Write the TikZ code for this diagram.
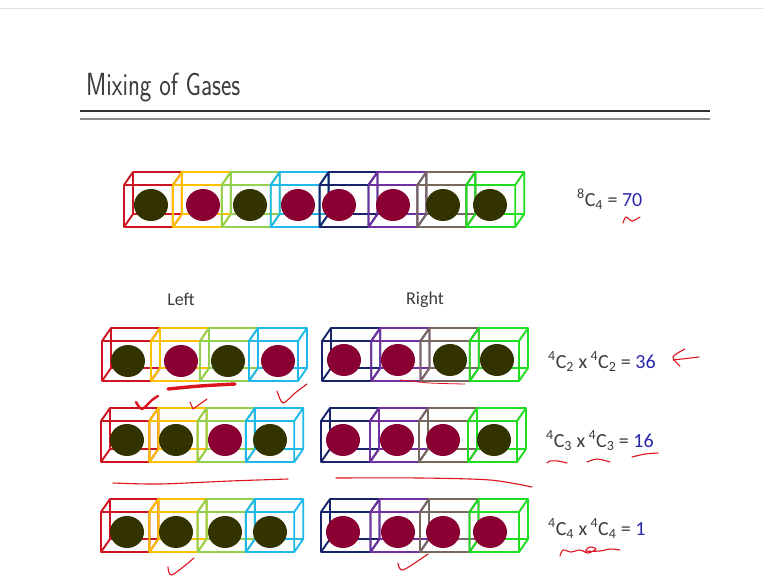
\documentclass[tikz,border=0pt]{standalone}
\usepackage{fontspec}
\setmainfont{Carlito}
\usepackage{graphicx}

% cube edge colours
\definecolor{cred}{RGB}{205,20,35}
\definecolor{cyel}{RGB}{255,192,0}
\definecolor{clgr}{RGB}{146,208,80}
\definecolor{ccya}{RGB}{30,185,235}
\definecolor{cnav}{RGB}{25,35,105}
\definecolor{cpur}{RGB}{112,48,160}
\definecolor{cbrn}{RGB}{118,104,92}
\definecolor{cgrn}{RGB}{30,220,30}
% molecule colours
\definecolor{ballD}{RGB}{51,51,0}
\definecolor{ballC}{RGB}{139,0,51}
% text and pen colours
\definecolor{txt}{RGB}{60,60,60}
\definecolor{numblue}{RGB}{40,40,170}
\definecolor{penred}{RGB}{220,20,30}

\tikzset{
  cubeedge/.style={line width=1.9pt, line join=round},
  pen/.style={draw=penred, line width=1.1pt, line cap=round, line join=round},
  thickpen/.style={pen, line width=3.4pt},
  eqtext/.style={anchor=base west, inner sep=0pt, text=txt, font=\fontsize{20}{24}\selectfont},
  lbltext/.style={anchor=base, inner sep=0pt, text=txt, font=\fontsize{18}{21}\selectfont},
}

% depth offset of the back face of each cube
\def\cdx{9}
\def\cdy{13}

% #1,#2: front top-left corner, #3 width, #4 height, #5 colour
\newcommand{\gascube}[5]{%
  \begin{scope}[shift={(#1,#2)}]
    \draw[cubeedge, draw=#5] (0,0) rectangle (#3,#4)
      (\cdx,-\cdy) rectangle ++(#3,#4)
      (0,0) -- ++(\cdx,-\cdy) (#3,0) -- ++(\cdx,-\cdy)
      (#3,#4) -- ++(\cdx,-\cdy) (0,#4) -- ++(\cdx,-\cdy);
  \end{scope}}

% #1 start x, #2 front top y, #3 pitch, #4 height, #5 molecule y,
% #6 list of cubecolour/moleculecolour/moleculex
\newcommand{\gasrow}[6]{%
  \foreach \cc/\bc/\cx [count=\i from 0] in {#6} {
    \gascube{#1+\i*#3}{#2}{#3}{#4}{\cc}
    \fill[\bc] (\cx,#5) ellipse [x radius=17pt, y radius=16pt];
  }}

\begin{document}
\begin{tikzpicture}[x=1pt, y=-1pt]
\useasboundingbox (0,0) rectangle (763,581);
\fill[white] (0,0) rectangle (763,581);
\draw[black!12, line width=0.8pt] (0,8) -- (763,8);

% heading
\node[anchor=base west, inner sep=0pt, text=txt] (title) at (86,95)
  {\scalebox{0.77}[1]{\sffamily\fontsize{32}{36}\selectfont Mixing of Gases}};
\coordinate (ruleL) at (80,111);
\coordinate (ruleR) at (710,111);
\draw[black!80, line width=2.6pt] (ruleL) -- (ruleR);
\draw[black!45, line width=1.2pt] ([yshift=-8pt]ruleL) -- ([yshift=-8pt]ruleR);

% all eight molecules together
\gasrow{124}{185}{48.9}{42}{205}{cred/ballD/151, cyel/ballC/203, clgr/ballD/250, ccya/ballC/298, cnav/ballC/339, cpur/ballC/393, cbrn/ballD/443, cgrn/ballD/490}
\node[eqtext] (eqall) at (577,206) {\textsuperscript{8}C\textsubscript{4} = \textcolor{numblue}{70}};

\node[lbltext] (lblleft) at (181,305) {Left};
\node[lbltext] (lblright) at (425,304) {Right};

% two of each kind on each side
\gasrow{102}{341}{49}{40}{361}{cred/ballD/128, cyel/ballC/181, clgr/ballD/228, ccya/ballC/278}
\gasrow{322}{341}{49.25}{40}{360}{cnav/ballC/344, cpur/ballC/398, cbrn/ballD/450, cgrn/ballD/497}
\node[eqtext] (eqtwo) at (548,368) {\textsuperscript{4}C\textsubscript{2} x\,\textsuperscript{4}C\textsubscript{2} = \textcolor{numblue}{36}};

% three and one
\gasrow{101}{421}{48.3}{41}{440}{cred/ballD/127, cyel/ballD/176, clgr/ballC/225, ccya/ballD/270}
\gasrow{321}{421}{49}{41}{440}{cnav/ballC/343, cpur/ballC/397, cbrn/ballC/443, cgrn/ballD/494}
\node[eqtext] (eqthree) at (546,447) {\textsuperscript{4}C\textsubscript{3} x\,\textsuperscript{4}C\textsubscript{3} = \textcolor{numblue}{16}};

% fully separated
\gasrow{101}{512}{48.3}{40}{532}{cred/ballD/127, cyel/ballD/176, clgr/ballD/225, ccya/ballD/270}
\gasrow{321}{512}{49.5}{40}{532}{cnav/ballC/343, cpur/ballC/398, cbrn/ballC/443, cgrn/ballC/490}
\node[eqtext] (eqfour) at (548,535) {\textsuperscript{4}C\textsubscript{4} x\,\textsuperscript{4}C\textsubscript{4} = \textcolor{numblue}{1}};

% pen annotations
\draw[pen] plot[smooth] coordinates {(623,223) (626,217) (632,221) (640,217)};
\draw[pen] plot[smooth] coordinates {(685,349) (673,357) (680,366)};
\draw[pen] (673,360) -- (699,357);

\draw[thickpen] plot[smooth] coordinates {(168,389) (200,386) (235,384)};
\draw[pen, line width=2.4pt] plot[smooth] coordinates {(136,402) (142,409) (152,400) (158,396)};
\draw[pen] (190,402) -- (193,409) -- (207,399);
\draw[pen] plot[smooth] coordinates {(277,391) (283,403) (295,393) (307,384)};
\draw[pen, line width=0.8pt] plot[smooth] coordinates {(400,380) (430,383) (465,384)};

\draw[pen] plot[smooth] coordinates {(113,483) (160,484) (230,481) (288,479)};
\draw[pen] plot[smooth] coordinates {(336,478) (420,478) (490,480) (532,487)};
\draw[pen] plot[smooth] coordinates {(547,463) (550,461) (558,461) (567,463)};
\draw[pen] plot[smooth] coordinates {(587,462) (597,459) (610,462)};
\draw[pen] plot[smooth] coordinates {(632,457) (645,454) (658,453)};

\draw[pen] plot[smooth] coordinates {(168,567) (172,575) (194,558)};
\draw[pen] plot[smooth] coordinates {(398,563) (403,570) (428,554)};
\draw[pen] plot[smooth] coordinates {(560,556) (563,550) (571,552) (580,550) (588,553) (596,549) (590,547) (586,551) (600,551) (610,549) (620,550)};
\end{tikzpicture}
\end{document}
